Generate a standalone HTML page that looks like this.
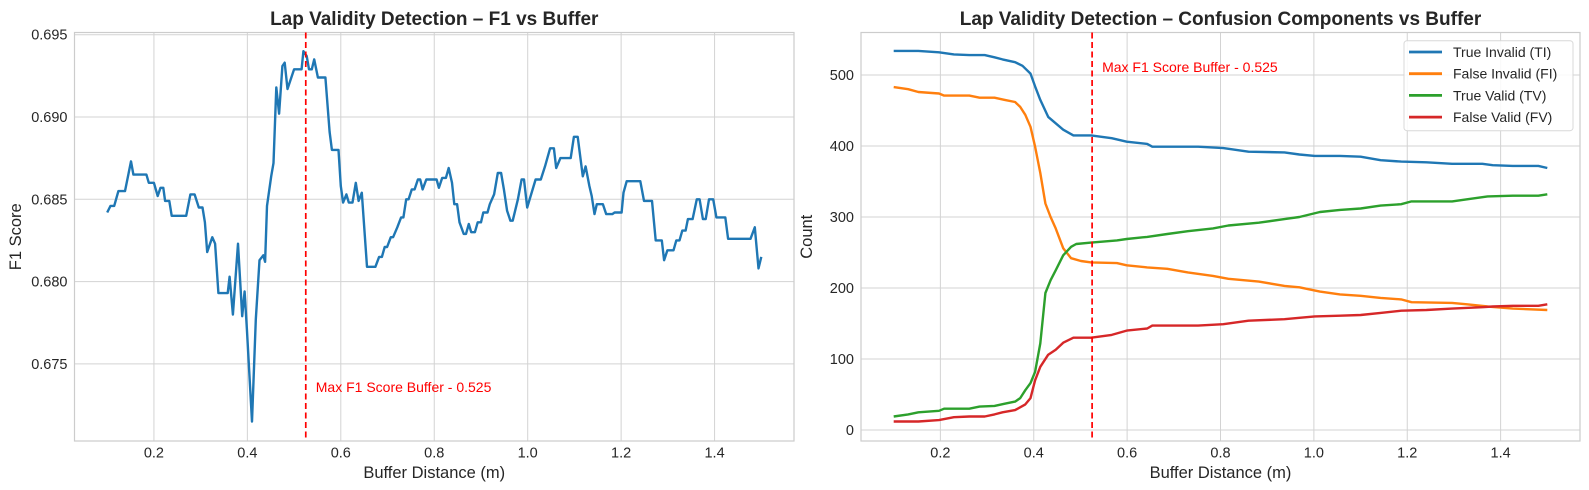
<!DOCTYPE html>
<html><head><meta charset="utf-8"><style>
html,body{margin:0;padding:0;background:#fff;}
svg{display:block;font-family:"Liberation Sans",Arial,sans-serif;}
.tick{font-size:14.5px;fill:#262626;}
.title{font-size:19px;font-weight:bold;fill:#262626;}
.alab{font-size:16.5px;fill:#262626;}
.grid{stroke:#d3d3d3;stroke-width:1;}
</style></head><body>
<svg id="fig" width="1589" height="490" viewBox="0 0 1589 490" xmlns="http://www.w3.org/2000/svg"></svg>
<script>
// ---- F1 chart data ----
const f1X = [0.100,0.107,0.115,0.124,0.138,0.151,0.156,0.184,0.189,0.200,0.208,0.214,0.220,0.224,0.233,0.238,0.269,0.278,0.287,0.296,0.304,0.309,0.314,0.325,0.331,0.338,0.358,0.362,0.369,0.380,0.389,0.394,0.399,0.410,0.418,0.426,0.434,0.438,0.442,0.451,0.456,0.462,0.468,0.475,0.480,0.486,0.500,0.516,0.520,0.527,0.532,0.538,0.543,0.551,0.567,0.576,0.581,0.595,0.600,0.605,0.612,0.617,0.625,0.632,0.638,0.645,0.656,0.674,0.682,0.688,0.694,0.699,0.707,0.712,0.721,0.729,0.734,0.740,0.745,0.752,0.758,0.765,0.770,0.775,0.783,0.805,0.810,0.817,0.825,0.831,0.838,0.843,0.849,0.854,0.863,0.868,0.874,0.879,0.887,0.893,0.900,0.905,0.914,0.919,0.928,0.936,0.943,0.949,0.956,0.963,0.968,0.979,0.987,0.992,0.999,1.017,1.028,1.037,1.048,1.056,1.061,1.070,1.092,1.099,1.107,1.118,1.124,1.132,1.137,1.143,1.148,1.161,1.168,1.181,1.186,1.201,1.205,1.212,1.241,1.249,1.266,1.274,1.287,1.292,1.299,1.312,1.318,1.325,1.331,1.338,1.343,1.353,1.362,1.368,1.375,1.381,1.388,1.397,1.404,1.423,1.429,1.477,1.486,1.494,1.500];
const f1Y = [0.6842,0.6846,0.6846,0.6855,0.6855,0.6873,0.6865,0.6865,0.6860,0.6860,0.6852,0.6857,0.6857,0.6849,0.6849,0.6840,0.6840,0.6853,0.6853,0.6845,0.6845,0.6836,0.6818,0.6827,0.6823,0.6793,0.6793,0.6803,0.6780,0.6823,0.6779,0.6794,0.6771,0.6715,0.6777,0.6813,0.6816,0.6812,0.6846,0.6864,0.6872,0.6918,0.6902,0.6931,0.6933,0.6917,0.6929,0.6929,0.6940,0.6937,0.6929,0.6929,0.6935,0.6924,0.6924,0.6891,0.6880,0.6880,0.6858,0.6848,0.6853,0.6848,0.6848,0.6860,0.6849,0.6854,0.6809,0.6809,0.6815,0.6815,0.6821,0.6821,0.6827,0.6827,0.6833,0.6839,0.6839,0.6850,0.6850,0.6856,0.6856,0.6862,0.6862,0.6856,0.6862,0.6862,0.6857,0.6863,0.6863,0.6869,0.6860,0.6847,0.6847,0.6836,0.6829,0.6829,0.6835,0.6830,0.6830,0.6836,0.6836,0.6842,0.6842,0.6847,0.6853,0.6866,0.6866,0.6856,0.6843,0.6837,0.6837,0.6850,0.6862,0.6862,0.6845,0.6862,0.6862,0.6870,0.6881,0.6881,0.6869,0.6875,0.6875,0.6888,0.6888,0.6864,0.6870,0.6858,0.6852,0.6841,0.6847,0.6847,0.6841,0.6841,0.6842,0.6842,0.6854,0.6861,0.6861,0.6849,0.6849,0.6825,0.6825,0.6813,0.6819,0.6819,0.6825,0.6825,0.6831,0.6831,0.6838,0.6838,0.6850,0.6850,0.6838,0.6838,0.6850,0.6850,0.6839,0.6839,0.6826,0.6826,0.6833,0.6808,0.6815];
const f1YTicks = [0.675,0.680,0.685,0.690,0.695];
const xTicks = [0.2,0.4,0.6,0.8,1.0,1.2,1.4];
const bestBuffer = 0.525;
// ---- Confusion chart data ----
const tiX = [0.1,0.153,0.197,0.229,0.262,0.295,0.316,0.333,0.36,0.376,0.393,0.403,0.414,0.431,0.447,0.463,0.485,0.523,0.567,0.599,0.643,0.654,0.752,0.806,0.86,0.937,0.969,1.002,1.056,1.1,1.143,1.187,1.241,1.296,1.361,1.383,1.426,1.481,1.5];
const tiY = [534,534,532,529,528,528,525,522,518,513,502,484,465,441,432,423,415,415,411,406,403,399,399,397,392,391,388,386,386,385,380,378,377,375,375,373,372,372,369];
const fiX = [0.1,0.131,0.153,0.197,0.208,0.262,0.284,0.316,0.338,0.36,0.371,0.382,0.393,0.403,0.414,0.425,0.436,0.447,0.463,0.48,0.501,0.523,0.578,0.599,0.643,0.686,0.73,0.784,0.817,0.882,0.937,0.969,1.013,1.056,1.1,1.143,1.187,1.209,1.296,1.328,1.372,1.426,1.5];
const fiY = [483,480,476,474,471,471,468,468,465,462,455,444,427,399,362,319,300,284,256,242,238,236,235,232,229,227,222,217,213,209,203,201,195,191,189,186,184,180,179,177,174,171,169];
const tvX = [0.1,0.131,0.153,0.197,0.208,0.262,0.284,0.316,0.338,0.36,0.371,0.382,0.393,0.403,0.414,0.425,0.436,0.447,0.463,0.48,0.491,0.523,0.578,0.599,0.643,0.686,0.73,0.784,0.817,0.882,0.937,0.969,1.013,1.056,1.1,1.143,1.187,1.209,1.296,1.328,1.372,1.426,1.481,1.5];
const tvY = [19,22,25,27,30,30,33,34,37,40,45,56,66,82,122,193,211,225,246,258,262,264,267,269,272,276,280,284,288,292,297,300,307,310,312,316,318,322,322,325,329,330,330,332];
const fvX = [0.1,0.153,0.197,0.229,0.262,0.295,0.316,0.333,0.36,0.382,0.393,0.403,0.414,0.431,0.447,0.463,0.485,0.523,0.567,0.599,0.643,0.654,0.752,0.806,0.86,0.937,0.969,1.002,1.056,1.1,1.143,1.187,1.241,1.296,1.361,1.383,1.426,1.481,1.5];
const fvY = [12,12,14,18,19,19,22,25,28,36,45,70,89,106,113,123,130,130,134,140,143,147,147,149,154,156,158,160,161,162,165,168,169,171,173,174,175,175,177];
const countTicks = [0,100,200,300,400,500];
const seriesNames = ["True Invalid (TI)","False Invalid (FI)","True Valid (TV)","False Valid (FV)"];

const NS = "http://www.w3.org/2000/svg";
const svg = document.getElementById("fig");
function mk(tag, attrs, parent, text){
  const e = document.createElementNS(NS, tag);
  for (const k in attrs) e.setAttribute(k, attrs[k]);
  if (text !== undefined) e.textContent = text;
  (parent || svg).appendChild(e);
  return e;
}
const XMIN = 0.03, XMAX = 1.57;

// ===== Left chart =====
const L = {x0:74.5, x1:794, y0:32.5, y1:441};
const lx = v => L.x0 + (v - XMIN) / (XMAX - XMIN) * (L.x1 - L.x0);
const ly = v => 34.7 + (0.695 - v) / 0.005 * 82.3;
const gL = mk("g", {});


xTicks.forEach(t => {
  const g = mk("line", {x1:lx(t), x2:lx(t), y1:L.y0, y2:L.y1, class:"grid"}, gL);
  
  
  const tx = mk("text", {x:lx(t), y:L.y1+16.5, "text-anchor":"middle", class:"tick"}, gL, t.toFixed(1));
  
  
});
f1YTicks.forEach(t => {
  const g = mk("line", {x1:L.x0, x2:L.x1, y1:ly(t), y2:ly(t), class:"grid"}, gL);
  
  
  const tx = mk("text", {x:L.x0-7, y:ly(t)+5, "text-anchor":"end", class:"tick"}, gL, t.toFixed(3));
  
  
});
const frL = mk("rect", {x:L.x0, y:L.y0, width:L.x1-L.x0, height:L.y1-L.y0, fill:"none", stroke:"#cccccc", "stroke-width":1.2}, gL);


let d = "";
f1X.forEach((x,i) => { d += (i?"L":"M") + lx(x).toFixed(1) + "," + ly(f1Y[i]).toFixed(1); });
const f1Line = mk("path", {d:d, fill:"none", stroke:"#1f77b4", "stroke-width":2.4, "stroke-linejoin":"round"}, gL);


const vL = mk("line", {x1:lx(bestBuffer), x2:lx(bestBuffer), y1:L.y0, y2:L.y1, stroke:"#ff0000", "stroke-width":1.7, "stroke-dasharray":"6,3.5"}, gL);


const aL = mk("text", {x:lx(bestBuffer)+10, y:392, fill:"#ff0000", "font-size":"14px"}, gL, "Max F1 Score Buffer - " + bestBuffer);


const tL = mk("text", {x:(L.x0+L.x1)/2, y:25, "text-anchor":"middle", class:"title"}, gL, "Lap Validity Detection – F1 vs Buffer");


const xlL = mk("text", {x:(L.x0+L.x1)/2, y:478, "text-anchor":"middle", class:"alab"}, gL, "Buffer Distance (m)");


const ylL = mk("text", {x:0, y:0, "text-anchor":"middle", class:"alab", transform:"translate(21,"+((L.y0+L.y1)/2)+") rotate(-90)"}, gL, "F1 Score");



// ===== Right chart =====
const R = {x0:861, x1:1580, y0:32.5, y1:441};
const rx = v => R.x0 + (v - XMIN) / (XMAX - XMIN) * (R.x1 - R.x0);
const ry = v => 430 - v * 0.71;
const gR = mk("g", {});


xTicks.forEach(t => {
  const g = mk("line", {x1:rx(t), x2:rx(t), y1:R.y0, y2:R.y1, class:"grid"}, gR);
  
  
  const tx = mk("text", {x:rx(t), y:R.y1+16.5, "text-anchor":"middle", class:"tick"}, gR, t.toFixed(1));
  
  
});
countTicks.forEach(t => {
  const g = mk("line", {x1:R.x0, x2:R.x1, y1:ry(t), y2:ry(t), class:"grid"}, gR);
  
  
  const tx = mk("text", {x:R.x0-7, y:ry(t)+5, "text-anchor":"end", class:"tick"}, gR, String(t));
  
  
});
const frR = mk("rect", {x:R.x0, y:R.y0, width:R.x1-R.x0, height:R.y1-R.y0, fill:"none", stroke:"#cccccc", "stroke-width":1.2}, gR);


const series = [[tiX,tiY,"#1f77b4","true-invalid-line"],[fiX,fiY,"#ff7f0e","false-invalid-line"],[tvX,tvY,"#2ca02c","true-valid-line"],[fvX,fvY,"#d62728","false-valid-line"]];
series.forEach(s => {
  let p = "";
  const n = Math.min(s[0].length, s[1].length);
  for (let i=0;i<n;i++) p += (i?"L":"M") + rx(s[0][i]).toFixed(1) + "," + ry(s[1][i]).toFixed(1);
  const ln = mk("path", {d:p, fill:"none", stroke:s[2], "stroke-width":2.4, "stroke-linejoin":"round"}, gR);
  
  
});
const vR = mk("line", {x1:rx(bestBuffer), x2:rx(bestBuffer), y1:R.y0, y2:R.y1, stroke:"#ff0000", "stroke-width":1.7, "stroke-dasharray":"6,3.5"}, gR);


const aR = mk("text", {x:rx(bestBuffer)+10, y:72, fill:"#ff0000", "font-size":"14px"}, gR, "Max F1 Score Buffer - " + bestBuffer);


const tR = mk("text", {x:(R.x0+R.x1)/2, y:25, "text-anchor":"middle", class:"title"}, gR, "Lap Validity Detection – Confusion Components vs Buffer");


const xlR = mk("text", {x:(R.x0+R.x1)/2, y:478, "text-anchor":"middle", class:"alab"}, gR, "Buffer Distance (m)");


const ylR = mk("text", {x:0, y:0, "text-anchor":"middle", class:"alab", transform:"translate(812,"+((R.y0+R.y1)/2)+") rotate(-90)"}, gR, "Count");


// legend
const leg = mk("g", {}, gR);


mk("rect", {x:1404, y:40.7, width:169, height:90, rx:3, fill:"#ffffff", "fill-opacity":0.85, stroke:"#d8d8d8"}, leg);
seriesNames.forEach((nm,i) => {
  const yy = 52 + i*21.7;
  const ent = mk("g", {}, leg);
  
  
  mk("line", {x1:1409, x2:1442, y1:yy, y2:yy, stroke:series[i][2], "stroke-width":2.8}, ent);
  mk("text", {x:1453, y:yy+5, "font-size":"14px", fill:"#262626"}, ent, nm);
});
</script>
</body></html>
